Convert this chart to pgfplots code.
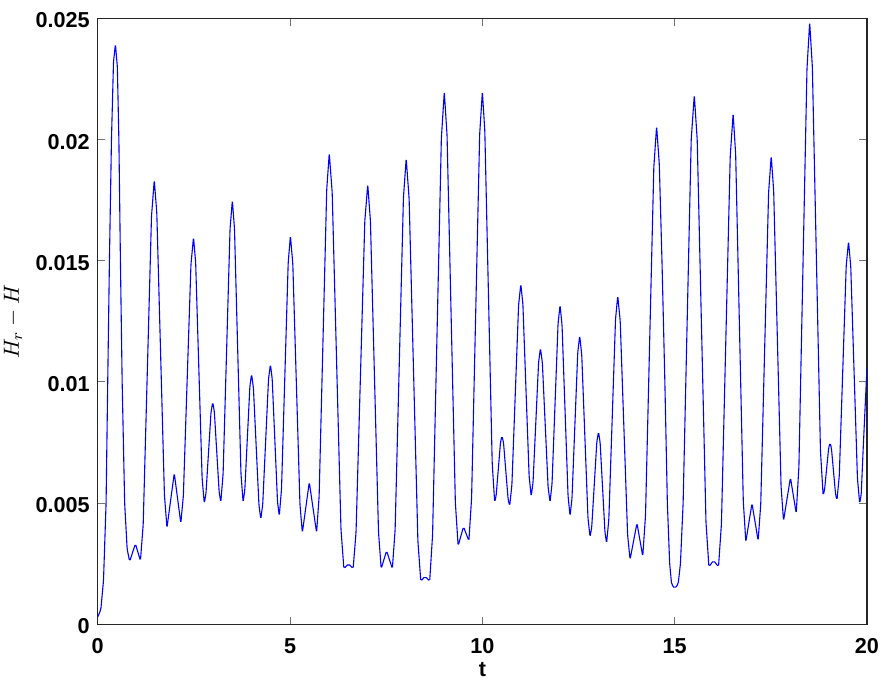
\documentclass[border=0pt]{standalone}
\usepackage{fontspec}
\setmainfont{Liberation Sans}
\usepackage{pgfplots}
\pgfplotsset{compat=1.18}
\begin{document}
\begin{tikzpicture}
\useasboundingbox (-48.85pt,-32pt) rectangle (394pt,312pt);
\begin{axis}[
  scale only axis,
  width=384.5pt, height=302.75pt,
  xmin=0, xmax=20, ymin=0, ymax=0.025,
  xtick={0,5,10,15,20},
  xticklabels={0,5,10,15,20},
  ytick={0,0.005,0.01,0.015,0.02,0.025},
  yticklabels={0,0.005,0.01,0.015,0.02,0.025},
  scaled y ticks=false,
  tick align=inside,
  major tick length=3.75pt,
  tick style={black!55, line width=0.5pt},
  axis line style={black!85, line width=0.6pt},
  ticklabel style={font=\bfseries\fontsize{10.8}{13}\selectfont, inner sep=0pt},
  xticklabel style={anchor=north, yshift=-7pt},
  yticklabel style={anchor=east, xshift=-3.85pt, yshift=-1pt},
  /pgf/number format/assume math mode=true,
  xlabel={t},
  xlabel style={font=\bfseries\fontsize{10.8}{13}\selectfont, inner sep=0pt, at={(axis description cs:0.5,0)}, anchor=north, yshift=-19pt},
  ylabel={$H_r - H$},
  ylabel style={font=\fontsize{10.8}{13}\selectfont, inner sep=0pt, at={(axis description cs:-0.110,0.5)}, anchor=center, rotate=0},
]
\addplot[color={rgb,255:red,0;green,0;blue,255}, line width=0.55pt, sharp plot, rounded corners=0.9pt] coordinates {
(0.00,0.00030) (0.08,0.00060) (0.15,0.00180) (0.217,0.00500) (0.26,0.01000)
(0.304,0.01500) (0.357,0.02000) (0.41,0.02320) (0.46,0.02394)
(0.51,0.02300) (0.55,0.02000) (0.59,0.01500) (0.635,0.01000) (0.70,0.00500) (0.765,0.00310)
(0.83,0.00259) (0.98,0.00332) (1.11,0.00262)
(1.182,0.00411) (1.398,0.01684) (1.47,0.01833) (1.536,0.01697) (1.734,0.00534) (1.80,0.00398)
(1.99,0.00623) (2.16,0.00417)
(2.226,0.00529) (2.424,0.01485) (2.49,0.01597) (2.546,0.01493) (2.714,0.00603) (2.77,0.00499)
(2.814,0.00539) (2.946,0.00876) (2.99,0.00916) (3.032,0.00877) (3.158,0.00543) (3.20,0.00504)
(3.26,0.00622) (3.44,0.01631) (3.50,0.01749) (3.556,0.01631) (3.724,0.00622) (3.78,0.00504)
(3.824,0.00554) (3.956,0.00982) (4.00,0.01032) (4.048,0.00975) (4.192,0.00491) (4.24,0.00434)
(4.29,0.00495) (4.44,0.01011) (4.49,0.01072) (4.536,0.01013) (4.674,0.00506) (4.72,0.00447)
(4.778,0.00557) (4.952,0.01493) (5.01,0.01603) (5.072,0.01487) (5.258,0.00494) (5.32,0.00378)
(5.50,0.00586) (5.69,0.00378)
(5.756,0.00527) (5.954,0.01795) (6.02,0.01944) (6.096,0.01781) (6.324,0.00392) (6.40,0.00229)
(6.52,0.00250) (6.64,0.00229)
(6.716,0.00380) (6.944,0.01664) (7.02,0.01815) (7.09,0.01664) (7.30,0.00380) (7.37,0.00229)
(7.51,0.00303) (7.66,0.00229)
(7.732,0.00390) (7.948,0.01761) (8.02,0.01922) (8.096,0.01756) (8.324,0.00343) (8.40,0.00177)
(8.51,0.00198) (8.63,0.00177)
(8.706,0.00369) (8.934,0.02005) (9.01,0.02197) (9.082,0.02019) (9.298,0.00502) (9.37,0.00324)
(9.51,0.00402) (9.65,0.00344)
(9.72,0.00520) (9.93,0.02021) (10.00,0.02197) (10.064,0.02036) (10.256,0.00665) (10.32,0.00504)
(10.358,0.00530) (10.472,0.00751) (10.51,0.00777) (10.55,0.00750) (10.67,0.00515) (10.71,0.00488)
(10.768,0.00575) (10.942,0.01317) (11.00,0.01404) (11.054,0.01321) (11.216,0.00611) (11.27,0.00528)
(11.318,0.00586) (11.462,0.01081) (11.51,0.01139) (11.56,0.01079) (11.71,0.00564) (11.76,0.00504)
(11.812,0.00581) (11.968,0.01240) (12.02,0.01317) (12.072,0.01234) (12.228,0.00530) (12.28,0.00447)
(12.33,0.00518) (12.48,0.01120) (12.53,0.01191) (12.584,0.01112) (12.746,0.00439) (12.80,0.00360)
(12.844,0.00401) (12.976,0.00753) (13.02,0.00794) (13.062,0.00750) (13.188,0.00379) (13.23,0.00335)
(13.288,0.00432) (13.462,0.01258) (13.52,0.01355) (13.584,0.01252) (13.776,0.00370) (13.84,0.00267)
(14.02,0.00417) (14.17,0.00280)
(14.242,0.00449) (14.458,0.01886) (14.53,0.02055) (14.60,0.01900) (14.67,0.01500) (14.745,0.01000)
(14.81,0.00500) (14.87,0.00250) (14.92,0.00165) (15.00,0.00147) (15.09,0.00165) (15.15,0.00250)
(15.22,0.00500) (15.29,0.01000) (15.36,0.01500) (15.43,0.02000) (15.51,0.02184)
(15.586,0.02000) (15.814,0.00422) (15.89,0.00237) (16.01,0.00263) (16.14,0.00237)
(16.216,0.00415) (16.444,0.01929) (16.52,0.02107) (16.586,0.01939) (16.784,0.00508) (16.85,0.00340)
(17.01,0.00499) (17.17,0.00345)
(17.238,0.00496) (17.442,0.01781) (17.51,0.01932) (17.574,0.01789) (17.766,0.00570) (17.83,0.00427)
(18.01,0.00605) (18.16,0.00458)
(18.23,0.00650) (18.44,0.02292) (18.51,0.02484) (18.58,0.02299) (18.79,0.00717) (18.86,0.00532)
(18.896,0.00553) (19.004,0.00728) (19.04,0.00749) (19.076,0.00726) (19.184,0.00535) (19.22,0.00512)
(19.28,0.00613) (19.46,0.01479) (19.52,0.01580) (19.578,0.01477) (19.752,0.00602) (19.81,0.00499)
(19.85,0.00535) (19.90,0.00720) (20.00,0.01060)
};
\end{axis}
\end{tikzpicture}
\end{document}
